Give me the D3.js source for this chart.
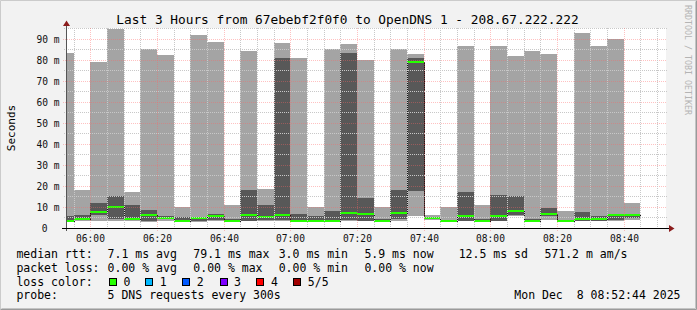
<!DOCTYPE html>
<html>
<head>
<meta charset="utf-8">
<script src="https://cdn.jsdelivr.net/npm/d3@7"></script>
<style>
    html, body { margin: 0; padding: 0; background: #f2f2f2; }
    svg text { font-family: "DejaVu Sans Mono", monospace; white-space: pre; }
</style>
</head>
<body>
<div id="chart"></div>
<script>
// 5-minute slots, 5 pings each, sorted (values in ms)
const slotStart = ["05:50", "05:55", "06:00", "06:05", "06:10", "06:15", "06:20", "06:25", "06:30", "06:35",
                   "06:40", "06:45", "06:50", "06:55", "07:00", "07:05", "07:10", "07:15", "07:20", "07:25",
                   "07:30", "07:35", "07:40", "07:45", "07:50", "07:55", "08:00", "08:05", "08:10", "08:15",
                   "08:20", "08:25", "08:30", "08:35", "08:40"];
const ping1 = [2.8, 3.1, 3.1, 3.3, 3.1, 3.0, 3.3, 2.9, 3.0, 3.3, 2.9, 3.1, 3.1, 3.2, 2.9, 2.9, 2.9, 3.1,
               3.1, 2.9, 3.2, 5.6, 3.6, 2.9, 3.1, 2.9, 3.1, 5.8, 2.9, 3.9, 2.9, 3.1, 3.1, 3.2, 3.9];
const ping2 = [3.0, 3.8, 6.0, 4.2, 3.6, 3.2, 4.4, 3.0, 3.2, 4.0, 3.0, 3.4, 3.6, 4.0, 3.0, 3.0, 3.0, 3.8,
               3.5, 3.0, 4.3, 17.4, 4.2, 3.0, 3.5, 3.0, 3.3, 6.4, 3.0, 5.8, 3.0, 3.4, 3.4, 4.0, 4.6];
const median = [3.1, 4.1, 7.6, 9.8, 4.1, 6.0, 4.9, 3.1, 4.8, 5.8, 3.1, 6.0, 5.0, 6.0, 3.1, 3.1, 3.1, 6.9,
                6.8, 3.1, 6.9, 79.0, 4.8, 3.1, 5.9, 3.1, 5.9, 7.9, 3.1, 6.8, 3.1, 4.2, 4.2, 6.0, 6.0];
const ping4 = [5.8, 6.3, 12.0, 15.0, 10.7, 8.7, 5.8, 5.0, 5.3, 6.5, 4.2, 18.2, 10.7, 80.6, 6.8, 5.7, 8.2, 83.3,
               14.4, 4.4, 18.2, 80.6, 5.4, 4.0, 17.3, 4.2, 15.8, 15.3, 4.4, 9.6, 3.3, 7.7, 5.9, 6.8, 6.6];
const ping5 = [83.3, 18.2, 78.8, 94.4, 17.2, 85.0, 82.4, 10.1, 91.7, 88.3, 11.0, 84.1, 18.7, 88.0, 80.6, 9.9, 85.0, 87.4,
               79.8, 9.8, 85.0, 82.6, 6.0, 10.1, 86.6, 11.0, 86.6, 81.7, 84.1, 82.6, 8.2, 92.7, 86.6, 89.8, 12.0];

const yTicks = [0, 10, 20, 30, 40, 50, 60, 70, 80, 90];
const xTickLabels = ["06:00", "06:20", "06:40", "07:00", "07:20", "07:40", "08:00", "08:20", "08:40"];

const rttStats = ["7.1 ms avg", "79.1 ms max", "3.0 ms min", "5.9 ms now", "12.5 ms sd", "571.2 m am/s"];
const lossStats = ["0.00 % avg", "0.00 % max", "0.00 % min", "0.00 % now"];
const lossLabels = ["0", "1", "2", "3", "4", "5/5"];
const lossColors = ["#26ff00", "#00b8ff", "#0059ff", "#7e00ff", "#ff0000", "#a10000"];

const width = 697, height = 310;
const toMin = s => +s.slice(0, 2) * 60 + +s.slice(3, 5);
const viewStart = toMin("05:52") + 44 / 60;
const viewEnd = viewStart + 180;

const x = d3.scaleLinear().domain([viewStart, viewEnd]).range([66, 666]);
const y = d3.scaleLinear().domain([0, 95]).range([228, 28]);
const px = v => Math.round(v) + 0.5;

const svg = d3.select('#chart').append('svg')
    .attr('width', width)
    .attr('height', height)
    .style('display', 'block');

svg.append('rect').attr('width', width).attr('height', height).attr('fill', '#f2f2f2');

// 3d frame
svg.append('path').attr('d', `M0.5,${height - 0.5}V0.5H${width - 0.5}`).attr('fill', 'none').attr('stroke', '#cbcbcb').attr('stroke-width', 1);
svg.append('path').attr('d', `M0.5,${height - 0.5}H${width - 0.5}V0.5`).attr('fill', 'none').attr('stroke', '#9a9a9a').attr('stroke-width', 1);
svg.append('path').attr('d', `M1.5,${height - 1.5}H${width - 1.5}V1.5`).attr('fill', 'none').attr('stroke', '#c4c4c4').attr('stroke-width', 1);

svg.append('defs').append('clipPath').attr('id', 'plot')
    .append('rect').attr('x', 66).attr('y', 28).attr('width', 600).attr('height', 200);

svg.append('rect').attr('x', 66).attr('y', 28).attr('width', 600).attr('height', 200).attr('fill', '#fff');

const data = slotStart.map((s, i) => ({
    t: toMin(s), p1: ping1[i], p2: ping2[i], med: median[i], p4: ping4[i], p5: ping5[i]
}));

const plot = svg.append('g').attr('clip-path', 'url(#plot)').attr('shape-rendering', 'crispEdges');

// outer smoke (ping1..ping5)
plot.selectAll('rect.outer').data(data).enter().append('rect')
    .attr('class', 'outer')
    .attr('x', d => Math.round(x(d.t)))
    .attr('width', d => Math.round(x(d.t + 5)) - Math.round(x(d.t)))
    .attr('y', d => Math.round(y(d.p5)))
    .attr('height', d => Math.round(y(d.p1)) - Math.round(y(d.p5)))
    .attr('fill', '#a4a4a4');

// inner smoke (ping2..ping4)
plot.selectAll('rect.inner').data(data).enter().append('rect')
    .attr('class', 'inner')
    .attr('x', d => Math.round(x(d.t)))
    .attr('width', d => Math.round(x(d.t + 5)) - Math.round(x(d.t)))
    .attr('y', d => Math.round(y(d.p4)))
    .attr('height', d => Math.round(y(d.p2)) - Math.round(y(d.p4)))
    .attr('fill', '#585858');

// median step line
const steps = data.map(d => [x(d.t), y(d.med)]);
steps.push([x(data[data.length - 1].t + 5), y(data[data.length - 1].med)]);
plot.append('path')
    .attr('d', d3.line().curve(d3.curveStepAfter)(steps.map(p => [Math.round(p[0]) + 0.5, px(p[1])])))
    .attr('fill', 'none')
    .attr('stroke', '#1a1a1a')
    .attr('stroke-width', 1);

// median colored by loss (all 0 loss)
plot.selectAll('rect.med').data(data).enter().append('rect')
    .attr('class', 'med')
    .attr('x', d => Math.round(x(d.t)))
    .attr('width', d => Math.round(x(d.t + 5)) - Math.round(x(d.t)))
    .attr('y', d => Math.round(y(d.med)) - 1)
    .attr('height', 2)
    .attr('fill', lossColors[0]);

// grid on top
const grid = svg.append('g').attr('shape-rendering', 'crispEdges');
const minorY = d3.range(5, 96, 10);
grid.selectAll('line.hmin').data(minorY).enter().append('line')
    .attr('x1', 64).attr('x2', 667)
    .attr('y1', d => px(y(d))).attr('y2', d => px(y(d)))
    .attr('stroke', '#c8c8c8').attr('stroke-dasharray', '1,1');
grid.selectAll('line.hmaj').data(yTicks.slice(1)).enter().append('line')
    .attr('x1', 63).attr('x2', 667)
    .attr('y1', d => px(y(d))).attr('y2', d => px(y(d)))
    .attr('stroke', 'rgba(255,100,100,0.4)').attr('stroke-dasharray', '1,1');

const minorX = d3.range(toMin("05:55"), viewEnd, 5).filter(t => (t % 20) !== 0);
grid.selectAll('line.vmin').data(minorX).enter().append('line')
    .attr('y1', 28).attr('y2', 230)
    .attr('x1', d => px(x(d))).attr('x2', d => px(x(d)))
    .attr('stroke', '#c8c8c8').attr('stroke-dasharray', '1,1');
const majorX = xTickLabels.map(toMin);
grid.selectAll('line.vmaj').data(majorX).enter().append('line')
    .attr('y1', 28).attr('y2', 231)
    .attr('x1', d => px(x(d))).attr('x2', d => px(x(d)))
    .attr('stroke', 'rgba(255,100,100,0.4)').attr('stroke-dasharray', '1,1');

// axes
svg.append('line').attr('x1', 66.5).attr('x2', 66.5).attr('y1', 231).attr('y2', 24)
    .attr('stroke', '#555').attr('shape-rendering', 'crispEdges');
svg.append('line').attr('x1', 62).attr('x2', 670).attr('y1', 228.5).attr('y2', 228.5)
    .attr('stroke', '#000').attr('shape-rendering', 'crispEdges');
svg.append('path').attr('d', 'M66.5,20.5L70,26L63,26Z').attr('fill', '#8b1c1c');
svg.append('path').attr('d', 'M674.5,228.5L669,225L669,232Z').attr('fill', '#8b1c1c');

// tick labels
svg.append('g').selectAll('text').data(yTicks).enter().append('text')
    .attr('x', d => d === 0 ? 47.5 : 59.5)
    .attr('y', d => px(y(d)) + 3.5)
    .attr('text-anchor', 'end')
    .attr('font-size', '9.6px')
    .attr('fill', '#111')
    .text(d => d === 0 ? '0' : `${d} m`);

svg.append('g').selectAll('text').data(xTickLabels).enter().append('text')
    .attr('x', d => px(x(toMin(d))))
    .attr('y', 241.5)
    .attr('text-anchor', 'middle')
    .attr('font-size', '9.6px')
    .attr('fill', '#111')
    .text(d => d);

// title, axis title, watermark
svg.append('text').attr('x', 347.5).attr('y', 24).attr('text-anchor', 'middle')
    .attr('font-size', '12.8px').attr('fill', '#000')
    .text('Last 3 Hours from 67ebebf2f0f0 to OpenDNS 1 - 208.67.222.222');

svg.append('text').attr('transform', 'translate(15,128) rotate(-90)').attr('text-anchor', 'middle')
    .attr('font-size', '11px').attr('fill', '#000').text('Seconds');

svg.append('text').attr('transform', 'translate(684.5,60) rotate(90)').attr('text-anchor', 'middle')
    .attr('font-size', '8.3px').attr('fill', '#b4b4b4').text('RRDTOOL / TOBI OETIKER');

// legend
const legend = svg.append('g').attr('font-size', '11.5px').attr('fill', '#000');
const rowY = [258, 271.8, 285.6, 299.3];
const colX = [107.6, 193.3, 278.7, 364.4, 458.7, 544.4];

legend.append('text').attr('x', 16.4).attr('y', rowY[0]).text('median rtt:');
legend.selectAll('text.rtt').data(rttStats).enter().append('text')
    .attr('x', (d, i) => colX[i]).attr('y', rowY[0]).text(d => d);

legend.append('text').attr('x', 16.4).attr('y', rowY[1]).text('packet loss:');
legend.selectAll('text.loss').data(lossStats).enter().append('text')
    .attr('x', (d, i) => colX[i]).attr('y', rowY[1]).text(d => d);

legend.append('text').attr('x', 16.4).attr('y', rowY[2]).text('loss color:');
const boxX = [108.9, 145.3, 182.2, 219.6, 256.4, 293.3];
const lc = legend.selectAll('g.lc').data(lossLabels).enter().append('g')
    .attr('transform', (d, i) => `translate(${boxX[i]},0)`);
lc.append('rect').attr('x', 0.5).attr('y', 278.5).attr('width', 7).attr('height', 7)
    .attr('fill', (d, i) => lossColors[i]).attr('stroke', '#000').attr('shape-rendering', 'crispEdges');
lc.append('text').attr('x', 14.5).attr('y', rowY[2]).text(d => d);

legend.append('text').attr('x', 16.4).attr('y', rowY[3]).text('probe:');
legend.append('text').attr('x', 107.6).attr('y', rowY[3]).text('5 DNS requests every 300s');
legend.append('text').attr('x', 680.5).attr('y', rowY[3]).attr('text-anchor', 'end').text('Mon Dec  8 08:52:44 2025');
</script>
</body>
</html>
